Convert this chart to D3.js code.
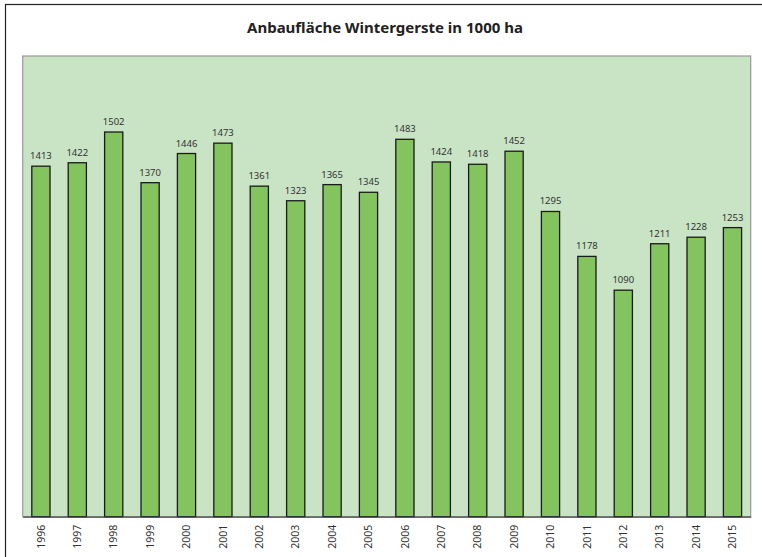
<!doctype html>
<html lang="de">
<head>
  <meta charset="utf-8">
  <title>Anbaufläche Wintergerste</title>
  <style>
    body { margin: 0; background: #fff; }
    text { font-family: "Noto Sans", "Open Sans", sans-serif; }
  </style>
</head>
<body>
<svg id="chart"></svg>
<script src="https://d3js.org/d3.v7.min.js"></script>
<script>
var years = ["1996","1997","1998","1999","2000","2001","2002","2003","2004","2005",
             "2006","2007","2008","2009","2010","2011","2012","2013","2014","2015"];
var flaeche = [1413,1422,1502,1370,1446,1473,1361,1323,1365,1345,
               1483,1424,1418,1452,1295,1178,1090,1211,1228,1253];

var width = 762, height = 557;
var plot = {left: 22.7, top: 56, right: 750.7, bottom: 516.7};

var svg = d3.select("#chart")
  .attr("width", width)
  .attr("height", height);

// outer frame (only top and left visible in the picture)
svg.append("rect")
  .attr("x", 5.5).attr("y", 4.5)
  .attr("width", 800).attr("height", 600)
  .attr("fill", "#fff")
  .attr("stroke", "#222")
  .attr("stroke-width", 1.2);

svg.append("text")
  .attr("x", 385).attr("y", 33)
  .attr("text-anchor", "middle")
  .style("font-size", "15px")
  .style("font-weight", "bold")
  .attr("fill", "#222")
  .text("Anbaufläche Wintergerste in 1000 ha");

svg.append("rect")
  .attr("x", plot.left).attr("y", plot.top)
  .attr("width", plot.right - plot.left)
  .attr("height", plot.bottom - plot.top)
  .attr("fill", "#c8e4c4")
  .attr("stroke", "#999")
  .attr("stroke-width", 1.2);

var x = d3.scaleBand()
  .domain(years)
  .range([plot.left, plot.right])
  .paddingInner(0.5)
  .paddingOuter(0.25);

var y = d3.scaleLinear()
  .domain([500, 1700])
  .range([plot.bottom, plot.top]);

svg.selectAll("rect.bar").data(flaeche)
  .enter()
  .append("rect")
  .attr("class", "bar")
  .attr("x", function(d, i) { return x(years[i]); })
  .attr("y", function(d) { return y(d); })
  .attr("width", x.bandwidth())
  .attr("height", function(d) { return plot.bottom - y(d); })
  .attr("fill", "#84c45e")
  .attr("stroke", "#1a1a1a")
  .attr("stroke-width", 1.3);

svg.selectAll("text.val").data(flaeche)
  .enter()
  .append("text")
  .attr("class", "val")
  .attr("x", function(d, i) { return x(years[i]) + x.bandwidth() / 2; })
  .attr("y", function(d) { return y(d) - 7; })
  .attr("text-anchor", "middle")
  .style("font-size", "9.5px")
  .attr("fill", "#333")
  .text(function(d) { return d; });

var xAxis = d3.axisBottom(x).tickSize(0).tickPadding(0);
var gx = svg.append("g")
  .attr("transform", "translate(0," + plot.bottom + ")")
  .call(xAxis);
gx.select(".domain").attr("stroke", "#444").attr("stroke-width", 1.2);
gx.selectAll("text")
  .attr("transform", "rotate(-90)")
  .attr("x", -8)
  .attr("y", 0)
  .attr("dy", "0.35em")
  .attr("text-anchor", "end")
  .style("font-size", "10.5px")
  .style("font-family", "'Noto Sans', sans-serif")
  .attr("fill", "#333");
</script>
</body>
</html>
